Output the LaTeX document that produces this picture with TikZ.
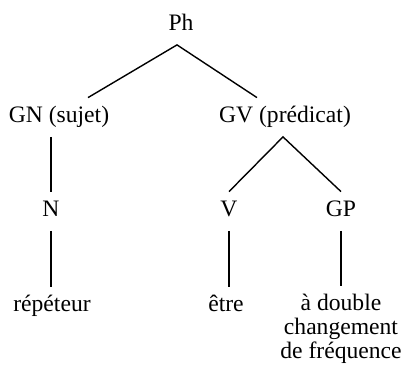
\documentclass[tikz,border=0pt]{standalone}
\usepackage{fontspec}
\setmainfont{Liberation Serif}
\usepackage{tikz}
\tikzset{>=stealth}
\tikzset{cat/.style={anchor=base,inner xsep=2pt,inner ysep=7.25pt,text height=4.75pt,text depth=0pt},
 branch/.style={line width=0.7pt}}

\begin{document}
\begin{tikzpicture}[x=0.5pt,y=-0.5pt,font=\fontsize{11.8}{12}\selectfont]
\useasboundingbox (0,0) rectangle (403,366);

    \node[cat] (ph) at (181,30) {Ph};
    \node[cat] (gn) at (59,122) {GN (sujet)};
    \node[cat] (gv) at (285,122) {GV (prédicat)};
    \node[cat] (n) at (51,216) {N};
    \node[cat] (v) at (229,216) {V};
    \node[cat] (gp) at (341,216) {GP};
    \node[cat] (rep) at (52,311) {répéteur};
    \node[cat] (etre) at (226,311) {être};
    \node[anchor=north,inner ysep=4pt,align=center] (dbl) at (341,286) {à double\\changement\\de fréquence};

    \draw[branch] ([xshift=14.5pt]gn.north)--([xshift=-2pt]ph.south)--([xshift=-14pt]gv.north);
    \draw[branch] (n.north |- gn.south)--(n.north) ;%sujet
    \draw[branch] (v.north)--([xshift=-1pt]gv.south)--(gp.north);
    \draw[branch] (n.south)--(n.south |- rep.north);
    \draw[branch] (v.south)--(v.south |- etre.north);
    \draw[branch] (gp.south)--(gp.south |- dbl.north);
\end{tikzpicture}
\end{document}
